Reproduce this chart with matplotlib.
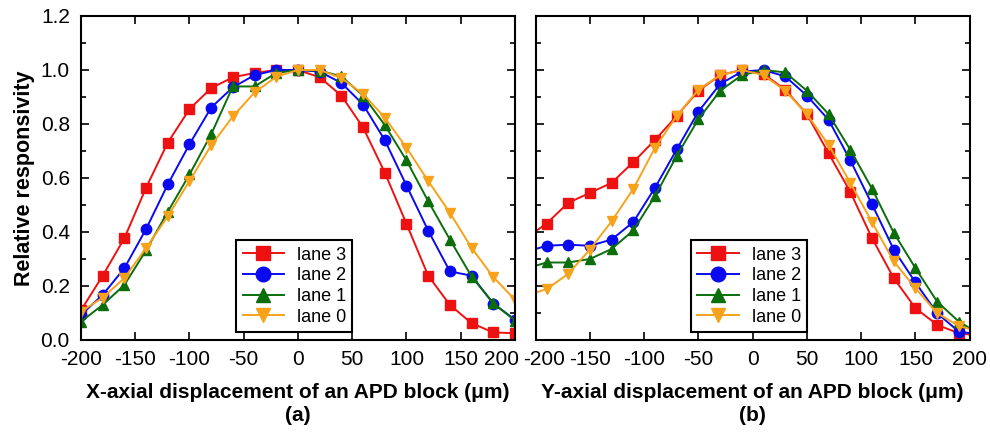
import matplotlib
matplotlib.use("Agg")
import matplotlib.pyplot as plt
import matplotlib.transforms as mtransforms
from matplotlib.ticker import MultipleLocator

plt.rcParams['font.family'] = ['Liberation Sans', 'DejaVu Sans']
plt.rcParams['axes.unicode_minus'] = False

# panel (a): X-axial displacement
x_a = [-200, -180, -160, -140, -120, -100, -80, -60, -40, -20, 0,
       20, 40, 60, 80, 100, 120, 140, 160, 180, 200]
lane3_a = [0.11, 0.238, 0.377, 0.564, 0.731, 0.855, 0.933, 0.973, 0.989, 1.0, 1.0,
           0.973, 0.905, 0.787, 0.62, 0.43, 0.238, 0.13, 0.062, 0.028, 0.025]
lane2_a = [0.093, 0.167, 0.266, 0.411, 0.576, 0.725, 0.861, 0.936, 0.981, 1.0, 1.0,
           0.994, 0.952, 0.872, 0.74, 0.572, 0.405, 0.254, 0.238, 0.135, 0.075]
lane1_a = [0.068, 0.13, 0.204, 0.332, 0.475, 0.613, 0.762, 0.939, 0.939, 0.989, 1.0,
           0.998, 0.976, 0.905, 0.796, 0.665, 0.514, 0.372, 0.235, 0.136, 0.072]
lane0_a = [0.105, 0.157, 0.229, 0.341, 0.458, 0.589, 0.721, 0.828, 0.917, 0.975, 1.0,
           1.0, 0.97, 0.911, 0.824, 0.712, 0.589, 0.471, 0.341, 0.233, 0.149]

# panel (b): Y-axial displacement
x_b = [-210, -190, -170, -150, -130, -110, -90, -70, -50, -30, -10,
       10, 30, 50, 70, 90, 110, 130, 150, 170, 190, 210]
lane3_b = [0.375, 0.431, 0.508, 0.545, 0.582, 0.659, 0.741, 0.83, 0.923, 0.981, 1.0,
           0.985, 0.927, 0.836, 0.691, 0.548, 0.377, 0.229, 0.118, 0.056, 0.025, 0.015]
lane2_b = [0.325, 0.349, 0.353, 0.349, 0.372, 0.437, 0.564, 0.706, 0.846, 0.948, 0.994,
           1.0, 0.976, 0.905, 0.815, 0.665, 0.502, 0.335, 0.213, 0.099, 0.031, 0.02]
lane1_b = [0.263, 0.287, 0.287, 0.3, 0.337, 0.406, 0.533, 0.682, 0.818, 0.923, 0.981,
           1.0, 0.991, 0.923, 0.836, 0.704, 0.56, 0.397, 0.266, 0.142, 0.068, 0.02]
lane0_b = [0.164, 0.188, 0.245, 0.335, 0.44, 0.56, 0.712, 0.83, 0.927, 0.981, 1.0,
           0.981, 0.923, 0.836, 0.722, 0.582, 0.436, 0.291, 0.192, 0.099, 0.052, 0.03]

labels = ['lane 3', 'lane 2', 'lane 1', 'lane 0']
colors = ['#ee1111', '#0a0af0', '#0b6e0b', '#f7a21b']
markers = ['s', 'o', '^', 'v']

x_ticks = [-200, -150, -100, -50, 0, 50, 100, 150, 200]

fig = plt.figure(figsize=(9.9, 4.32), dpi=100)
ax_a = fig.add_axes([0.0818, 0.213, 0.4384, 0.75])
ax_b = fig.add_axes([0.5411, 0.213, 0.4384, 0.75])


def draw_panel(ax, x, series, xlabel, tag, show_ylabels):
    for ys, lab, c, m in zip(series, labels, colors, markers):
        ax.plot(x, ys, color=c, marker=m, markersize=7.5, linewidth=1.4,
                markerfacecolor=c, markeredgecolor=c, label=lab)
    ax.set_xlim(-200, 200)
    ax.set_ylim(0, 1.2)
    ax.set_xticks(x_ticks)
    ax.yaxis.set_major_locator(MultipleLocator(0.2))
    ax.yaxis.set_minor_locator(MultipleLocator(0.1))
    ax.tick_params(which='both', direction='in', top=True, right=True,
                   width=1.2, labelsize=15)
    ax.tick_params(which='major', length=6)
    ax.tick_params(which='minor', length=3.5)
    ax.tick_params(axis='x', pad=7)
    ax.tick_params(axis='y', pad=8)
    for s in ax.spines.values():
        s.set_linewidth(1.5)
    if show_ylabels:
        ax.yaxis.set_major_formatter(plt.FormatStrFormatter('%.1f'))
        ax.set_ylabel('Relative responsivity', fontsize=15.5, fontweight='bold', labelpad=4)
    else:
        ax.set_yticklabels([])
    ax.set_xlabel(xlabel + '\n' + tag, fontsize=15, fontweight='bold',
                  linespacing=1.3, labelpad=10)
    leg = ax.legend(loc='lower left', bbox_to_anchor=(0.358, 0.025), fontsize=13,
                    frameon=True, fancybox=False, edgecolor='black', framealpha=1,
                    borderpad=0.35, handlelength=2.3, handletextpad=0.7,
                    labelspacing=0.2, borderaxespad=0, markerscale=1.4)
    leg.get_frame().set_linewidth(1.5)


draw_panel(ax_a, x_a, [lane3_a, lane2_a, lane1_a, lane0_a],
           'X-axial displacement of an APD block (μm)', '(a)', True)
draw_panel(ax_b, x_b, [lane3_b, lane2_b, lane1_b, lane0_b],
           'Y-axial displacement of an APD block (μm)', '(b)', False)

# the two labels where the panels meet sit pulled apart, as in the original
last_a = ax_a.get_xticklabels()[-1]
last_a.set_transform(last_a.get_transform() +
                     mtransforms.ScaledTranslation(-13 / 100, 0, fig.dpi_scale_trans))
first_b = ax_b.get_xticklabels()[0]
first_b.set_transform(first_b.get_transform() +
                      mtransforms.ScaledTranslation(8 / 100, 0, fig.dpi_scale_trans))

fig.savefig('out.png', dpi=100)
